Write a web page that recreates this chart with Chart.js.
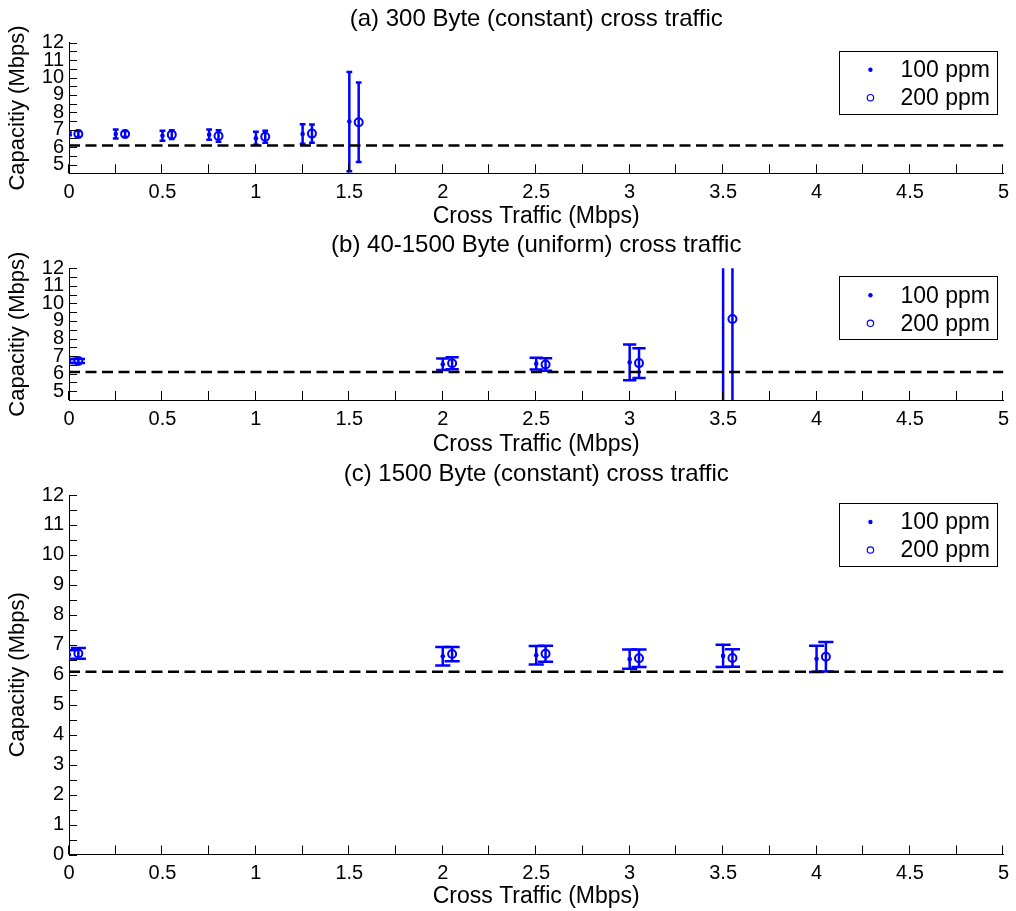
<!DOCTYPE html>
<html>
<head>
<meta charset="utf-8">
<title>Capacity estimates under cross traffic</title>
<script src="https://cdn.jsdelivr.net/npm/chart.js@4.4.1/dist/chart.umd.min.js"></script>
<style>
  html, body { margin: 0; padding: 0; background: #fff; }
  #wrap { position: relative; width: 1016px; height: 911px; overflow: hidden; background: #fff; }
  #wrap canvas { position: absolute; left: 0; }
</style>
</head>
<body>
<div id="wrap">
  <canvas id="panelA" width="1016" height="232" style="top:0px"></canvas>
  <canvas id="panelB" width="1016" height="232" style="top:228px"></canvas>
  <canvas id="panelC" width="1016" height="455" style="top:456px"></canvas>
</div>
<script>
// ---- data -------------------------------------------------------------
const seriesLabels = ['100 ppm', '200 ppm'];
const panelTitles = [
  '(a) 300 Byte (constant) cross traffic',
  '(b) 40-1500 Byte (uniform) cross traffic',
  '(c) 1500 Byte (constant) cross traffic'
];
const xAxisTitle = 'Cross Traffic (Mbps)';
const yAxisTitle = 'Capacitiy (Mbps)';
const xTickValues = [0, 0.5, 1, 1.5, 2, 2.5, 3, 3.5, 4, 4.5, 5];
const referenceCapacity = 6.1;   // dashed line (Mbps)

// (a) 300 Byte constant
const crossA100 = [0, 0.25, 0.5, 0.75, 1.0, 1.25, 1.5];
const meanA100  = [6.76, 6.76, 6.66, 6.72, 6.51, 6.76, 7.47];
const errA100   = [0.08, 0.26, 0.29, 0.29, 0.37, 0.56, 2.85];
const crossA200 = [0.05, 0.3, 0.55, 0.8, 1.05, 1.3, 1.55];
const meanA200  = [6.76, 6.76, 6.72, 6.64, 6.60, 6.78, 7.43];
const errA200   = [0.17, 0.17, 0.25, 0.33, 0.35, 0.52, 2.28];

// (b) 40-1500 Byte uniform
const crossB100 = [0, 2, 2.5, 3, 3.5];
const meanB100  = [6.72, 6.54, 6.57, 6.64, 13.2];
const errB100   = [0.12, 0.33, 0.34, 1.02, 9.5];
const crossB200 = [0.05, 2.05, 2.55, 3.05, 3.55];
const meanB200  = [6.72, 6.59, 6.52, 6.60, 9.11];
const errB200   = [0.12, 0.34, 0.36, 0.85, 5.5];

// (c) 1500 Byte constant
const crossC100 = [0, 2, 2.5, 3, 3.5, 4];
const meanC100  = [6.67, 6.62, 6.65, 6.52, 6.63, 6.53];
const errC100   = [0.15, 0.31, 0.31, 0.32, 0.37, 0.44];
const crossC200 = [0.05, 2.05, 2.55, 3.05, 3.55, 4.05];
const meanC200  = [6.71, 6.69, 6.70, 6.55, 6.56, 6.60];
const errC200   = [0.18, 0.24, 0.27, 0.29, 0.29, 0.49];

// ---- styling / layout --------------------------------------------------
const FONT = '"Liberation Sans", Arial, Helvetica, sans-serif';
const BLUE = '#0000ff';
const TICK_SIZE = 20, XLABEL_SIZE = 23, YLABEL_SIZE = 22, TITLE_SIZE = 24, LEGEND_SIZE = 23;
const AXIS_LEFT = 69, PAD_RIGHT = 10;

// vertical geometry of each panel, relative to its canvas
const layoutA = { h: 232, titleMid: 19, top: 42.7, bottom: 173.3, xTitleMid: 217, yMin: 4.5 };
const layoutB = { h: 232, titleMid: 17, top: 40.3, bottom: 172.0, xTitleMid: 217, yMin: 4.5 };
const layoutC = { h: 455, titleMid: 18, top: 39.0, bottom: 398.5, xTitleMid: 441, yMin: 0 };

const points = (xs, ys) => xs.map((x, i) => ({ x: x, y: ys[i] }));
const round2 = v => Math.round(v * 100) / 100;

// vertical error bars with caps, drawn beneath the markers
const errorBarPlugin = {
  id: 'errorBars',
  beforeDatasetsDraw(chart, args, opts) {
    const { ctx, chartArea: a, scales: { x, y } } = chart;
    ctx.save();
    ctx.beginPath();
    ctx.rect(a.left, a.top, a.right - a.left, a.bottom - a.top);
    ctx.clip();
    chart.data.datasets.forEach((ds) => {
      if (!ds.errors) return;
      ctx.strokeStyle = ds.borderColor;
      ctx.lineWidth = opts.lineWidth;
      ds.data.forEach((p, i) => {
        const e = ds.errors[i];
        const px = x.getPixelForValue(p.x);
        const yt = y.getPixelForValue(p.y + e);
        const yb = y.getPixelForValue(p.y - e);
        const cl = x.getPixelForValue(p.x - opts.capHalf);
        const cr = x.getPixelForValue(p.x + opts.capHalf);
        ctx.beginPath();
        ctx.moveTo(px, yt); ctx.lineTo(px, yb);
        ctx.moveTo(cl, yt); ctx.lineTo(cr, yt);
        ctx.moveTo(cl, yb); ctx.lineTo(cr, yb);
        ctx.stroke();
      });
    });
    ctx.restore();
  }
};

// tick marks pointing into the plot area
const inwardTicksPlugin = {
  id: 'inwardTicks',
  afterDraw(chart) {
    const { ctx, chartArea: a, scales: { x, y } } = chart;
    ctx.save();
    ctx.strokeStyle = '#000';
    ctx.lineWidth = 1;
    ctx.beginPath();
    x.ticks.forEach(t => {
      const px = Math.round(x.getPixelForValue(t.value)) - 0.5;
      ctx.moveTo(px, a.bottom); ctx.lineTo(px, a.bottom - 9);
    });
    y.ticks.forEach(t => {
      const py = Math.round(y.getPixelForValue(t.value)) + 0.5;
      ctx.moveTo(a.left, py); ctx.lineTo(a.left + 8, py);
    });
    ctx.stroke();
    ctx.restore();
  }
};

// boxed legend in the upper right corner of the plot area
const boxLegendPlugin = {
  id: 'boxLegend',
  afterDraw(chart) {
    const { ctx, chartArea: a } = chart;
    const w = 158, h = 63;
    const left = a.right - 6 - w, top = a.top + 8;
    ctx.save();
    ctx.fillStyle = '#fff';
    ctx.fillRect(left, top, w, h);
    ctx.strokeStyle = '#000';
    ctx.lineWidth = 1;
    ctx.strokeRect(Math.round(left) + 0.5, Math.round(top) + 0.5, w, h);
    const rows = [top + 19, top + 47];
    chart.data.datasets.filter(ds => ds.errors).forEach((ds, i) => {
      ctx.beginPath();
      if (i === 0) {
        ctx.fillStyle = ds.borderColor;
        ctx.arc(left + 31, rows[i], 2.2, 0, Math.PI * 2);
        ctx.fill();
      } else {
        ctx.strokeStyle = ds.borderColor;
        ctx.lineWidth = 1.2;
        ctx.arc(left + 31, rows[i], 3.2, 0, Math.PI * 2);
        ctx.stroke();
      }
      ctx.fillStyle = '#000';
      ctx.font = LEGEND_SIZE + 'px ' + FONT;
      ctx.textAlign = 'left';
      ctx.textBaseline = 'middle';
      ctx.fillText(ds.label, left + 61, rows[i] + 1);
    });
    ctx.restore();
  }
};

function makePanel(canvasId, title, L, s100, s200) {
  const allX = s100.x.concat(s200.x);
  const capHalf = (Math.max(...allX) - Math.min(...allX)) / 100;
  const titleLH = TITLE_SIZE * 1.2;
  const titlePadTop = L.titleMid - titleLH / 2;
  const titlePadBottom = L.top - titleLH - titlePadTop;
  const xLabelLH = XLABEL_SIZE * 1.2;
  const yLabelLH = YLABEL_SIZE * 1.2;

  return new Chart(document.getElementById(canvasId), {
    type: 'scatter',
    data: {
      datasets: [
        {
          type: 'line',
          label: 'capacity',
          data: [{ x: 0, y: referenceCapacity }, { x: 5, y: referenceCapacity }],
          borderColor: '#000',
          borderWidth: 2.5,
          borderDash: [11, 5.5],
          pointRadius: 0,
          fill: false,
          order: 0
        },
        {
          label: seriesLabels[0],
          data: points(s100.x, s100.m),
          errors: s100.e,
          pointStyle: 'circle',
          pointRadius: 2.3,
          backgroundColor: BLUE,
          borderColor: BLUE,
          borderWidth: 0,
          order: 2
        },
        {
          label: seriesLabels[1],
          data: points(s200.x, s200.m),
          errors: s200.e,
          pointStyle: 'circle',
          pointRadius: 4,
          backgroundColor: 'rgba(0,0,0,0)',
          borderColor: BLUE,
          borderWidth: 2,
          order: 1
        }
      ]
    },
    options: {
      responsive: false,
      animation: false,
      devicePixelRatio: 1,
      events: [],
      layout: { autoPadding: false, padding: { left: 0, right: PAD_RIGHT, top: 0, bottom: 0 } },
      plugins: {
        legend: { display: false },
        tooltip: { enabled: false },
        title: {
          display: true,
          fullSize: false,
          text: title,
          color: '#000',
          font: { family: FONT, size: TITLE_SIZE, weight: 'normal', lineHeight: 1.2 },
          padding: { top: titlePadTop, bottom: titlePadBottom }
        },
        errorBars: { capHalf: capHalf, lineWidth: 2.5 }
      },
      scales: {
        x: {
          type: 'linear',
          min: 0,
          max: 5,
          afterFit: sc => { sc.height = L.h - L.bottom; },
          grid: { display: false, drawTicks: false },
          border: { display: true, color: '#000', width: 1 },
          ticks: {
            stepSize: 0.25,
            autoSkip: false,
            maxRotation: 0,
            color: '#000',
            padding: 7,
            font: { family: FONT, size: TICK_SIZE, lineHeight: 1.2 },
            callback: v => (xTickValues.includes(round2(v)) ? String(round2(v)) : '')
          },
          title: {
            display: true,
            text: xAxisTitle,
            color: '#000',
            font: { family: FONT, size: XLABEL_SIZE, lineHeight: 1.2 },
            padding: { top: 0, bottom: Math.max(0, L.h - L.xTitleMid - xLabelLH / 2) }
          }
        },
        y: {
          type: 'linear',
          min: L.yMin,
          max: 12,
          afterFit: sc => { sc.width = AXIS_LEFT; },
          grid: { display: false, drawTicks: false },
          border: { display: true, color: '#000', width: 1 },
          ticks: {
            stepSize: 0.5,
            autoSkip: false,
            color: '#000',
            padding: 5,
            font: { family: FONT, size: TICK_SIZE, lineHeight: 1.2 },
            callback: v => (Number.isInteger(round2(v)) ? String(round2(v)) : '')
          },
          title: {
            display: true,
            text: yAxisTitle,
            color: '#000',
            font: { family: FONT, size: YLABEL_SIZE, lineHeight: 1.2 },
            padding: { top: 18 - yLabelLH / 2, bottom: 0 }
          }
        }
      }
    },
    plugins: [errorBarPlugin, inwardTicksPlugin, boxLegendPlugin]
  });
}

makePanel('panelA', panelTitles[0], layoutA,
  { x: crossA100, m: meanA100, e: errA100 },
  { x: crossA200, m: meanA200, e: errA200 });
makePanel('panelB', panelTitles[1], layoutB,
  { x: crossB100, m: meanB100, e: errB100 },
  { x: crossB200, m: meanB200, e: errB200 });
makePanel('panelC', panelTitles[2], layoutC,
  { x: crossC100, m: meanC100, e: errC100 },
  { x: crossC200, m: meanC200, e: errC200 });
</script>
</body>
</html>
